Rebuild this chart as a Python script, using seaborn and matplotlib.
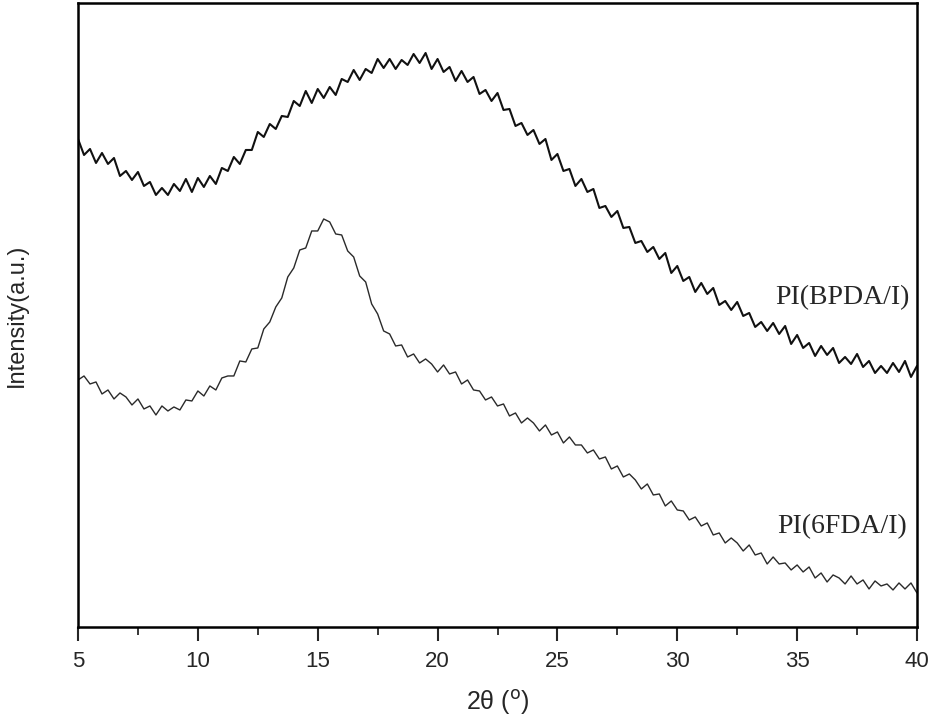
import numpy as np
import pandas as pd
import seaborn as sns
import matplotlib.pyplot as plt
from matplotlib.ticker import MultipleLocator

# 2theta grid (deg) and intensities (arbitrary units)
two_theta = np.linspace(5, 40, 141)

bpda = [488, 472, 478, 464, 474, 463, 469, 451, 456, 447,
        455, 441, 445, 432, 439, 432, 443, 436, 448, 435,
        449, 440, 451, 443, 459, 456, 470, 463, 477, 477,
        495, 490, 503, 498, 511, 510, 526, 521, 536, 524,
        538, 529, 540, 532, 548, 545, 557, 547, 558, 554,
        568, 559, 568, 558, 567, 562, 573, 564, 574, 558,
        568, 555, 560, 546, 556, 545, 550, 533, 537, 526,
        534, 517, 518, 501, 504, 492, 497, 483, 488, 467,
        473, 456, 458, 441, 448, 435, 438, 419, 421, 410,
        416, 399, 400, 384, 386, 375, 380, 368, 374, 354,
        361, 346, 350, 335, 344, 333, 339, 322, 326, 317,
        325, 311, 314, 300, 305, 296, 304, 293, 301, 283,
        292, 279, 284, 271, 281, 272, 279, 264, 270, 263,
        273, 260, 266, 254, 261, 254, 264, 255, 266, 250,
        261]

fda = [247, 251, 243, 245, 233, 237, 228, 234, 230, 222,
       228, 218, 221, 212, 221, 216, 220, 217, 227, 226,
       236, 231, 241, 237, 249, 251, 251, 266, 265, 278,
       279, 298, 305, 320, 329, 350, 359, 377, 379, 396,
       396, 408, 405, 393, 392, 376, 370, 351, 345, 323,
       313, 296, 293, 281, 282, 270, 273, 264, 268, 263,
       255, 262, 253, 255, 243, 247, 237, 236, 227, 230,
       221, 223, 211, 214, 204, 209, 204, 196, 202, 192,
       195, 184, 190, 182, 182, 174, 177, 168, 170, 158,
       161, 150, 153, 147, 138, 143, 132, 133, 121, 126,
       117, 116, 107, 110, 101, 104, 92, 94, 84, 89,
       84, 76, 82, 72, 74, 63, 70, 63, 64, 57,
       62, 55, 60, 49, 54, 45, 52, 49, 43, 51,
       43, 47, 38, 46, 41, 43, 37, 44, 38, 44,
       34]

labels = ['PI(BPDA/I)', 'PI(6FDA/I)']

df = pd.DataFrame({'two_theta': np.concatenate([two_theta, two_theta]),
                   'intensity': np.concatenate([bpda, fda]),
                   'sample': [labels[0]] * len(bpda) + [labels[1]] * len(fda)})

sns.set_style('white')
plt.rcParams['font.family'] = ['Liberation Sans', 'DejaVu Sans']

fig = plt.figure(figsize=(9.3, 7.27), dpi=100)
ax = fig.add_axes([0.0839, 0.1376, 0.9021, 0.8583])

sns.lineplot(data=df[df['sample'] == labels[0]], x='two_theta', y='intensity',
             color='#111111', lw=1.5, ax=ax, legend=False)
sns.lineplot(data=df[df['sample'] == labels[1]], x='two_theta', y='intensity',
             color='#2a2a2a', lw=1.0, ax=ax, legend=False)

ax.set_xlim(5, 40)
ax.set_ylim(0, 624)
ax.xaxis.set_major_locator(MultipleLocator(5))
ax.xaxis.set_minor_locator(MultipleLocator(2.5))
ax.set_yticks([])
ax.tick_params(axis='x', which='major', direction='out', length=10, width=1.5,
               labelsize=16, pad=7, bottom=True)
ax.tick_params(axis='x', which='minor', direction='out', length=6, width=1.3,
               bottom=True)
for s in ax.spines.values():
    s.set_linewidth(1.8)
    s.set_color('black')

ax.set_xlabel('2θ ($^\\mathrm{o}$)', fontsize=18, labelpad=12)
ax.set_ylabel('Intensity(a.u.)', fontsize=17, labelpad=36)

ax.text(39.7, 329, labels[0], ha='right', va='center', fontsize=20,
        family=['Liberation Serif', 'DejaVu Serif'])
ax.text(39.6, 100, labels[1], ha='right', va='center', fontsize=20,
        family=['Liberation Serif', 'DejaVu Serif'])

fig.savefig('out.png', dpi=100)
